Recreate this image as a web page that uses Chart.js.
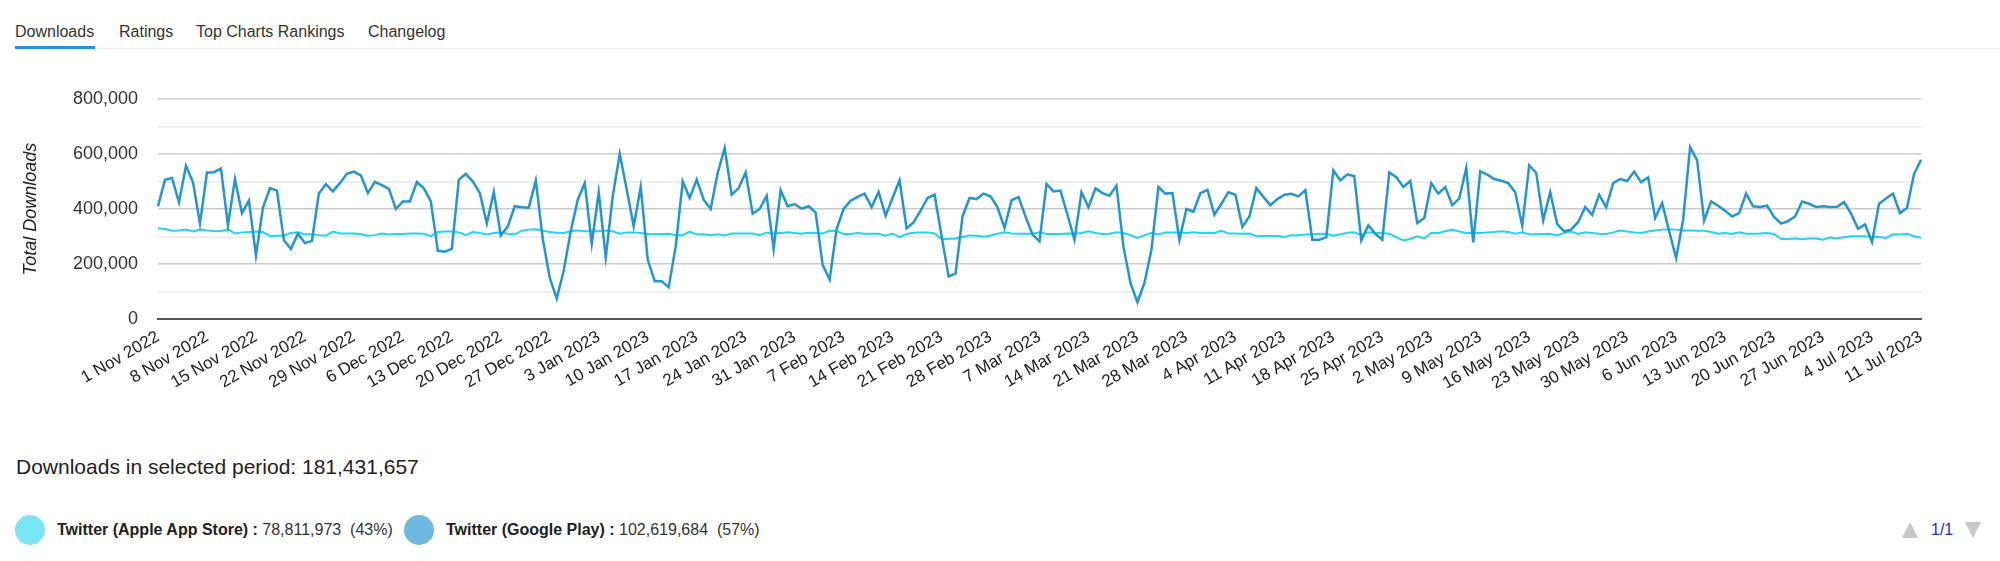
<!DOCTYPE html>
<html>
<head>
<meta charset="utf-8">
<script src="https://cdn.jsdelivr.net/npm/chart.js@4.4.1/dist/chart.umd.min.js"></script>
<style>
  html, body { margin: 0; padding: 0; background: #fff; }
  body { width: 2000px; height: 561px; overflow: hidden; position: relative;
         font-family: "Liberation Sans", Arial, Helvetica, sans-serif; color: #333; }
  .tab { position: absolute; top: 22px; font-size: 16px; line-height: 20px; color: #333; white-space: nowrap; }
  #tabline { position: absolute; left: 15px; right: 0; top: 48px; height: 1px; background: #eaeef2; }
  #tabactive { position: absolute; left: 15px; width: 80px; top: 46px; height: 3px; background: #1e96ee; }
  #chartWrap { position: absolute; left: 0; top: 60px; width: 1945px; height: 340px; }
  #period { position: absolute; left: 16px; top: 454px; font-size: 21px; line-height: 26px; color: #222; white-space: nowrap; }
  .dot { position: absolute; top: 515px; width: 30px; height: 30px; border-radius: 50%; }
  .leg { position: absolute; top: 520px; font-size: 16px; line-height: 20px; color: #333; white-space: pre; }
  .leg b { color: #222; }
  .tri { position: absolute; width: 0; height: 0; border-left: 8px solid transparent; border-right: 8px solid transparent; }
  #pg { position: absolute; left: 1931px; top: 520px; font-size: 16px; line-height: 20px; color: #1a2bd0; }
</style>
</head>
<body>
<div class="tab" style="left:15px">Downloads</div>
<div class="tab" style="left:119px">Ratings</div>
<div class="tab" style="left:196px">Top Charts Rankings</div>
<div class="tab" style="left:368px">Changelog</div>
<div id="tabline"></div>
<div id="tabactive"></div>

<div id="chartWrap"><canvas id="c" width="1945" height="340" style="width:1945px;height:340px"></canvas></div>

<div id="period">Downloads in selected period: 181,431,657</div>

<div class="dot" style="left:15px;background:#7ae6f3"></div>
<div class="leg" style="left:57px"><b>Twitter (Apple App Store) :</b> 78,811,973  (43%)</div>
<div class="dot" style="left:404px;background:#6fb8e0"></div>
<div class="leg" style="left:446px"><b>Twitter (Google Play) :</b> 102,619,684  (57%)</div>

<div class="tri" style="left:1902px;top:522px;border-bottom:16px solid #c8c8c8"></div>
<div id="pg">1/1</div>
<div class="tri" style="left:1965px;top:522px;border-top:16px solid #c8c8c8"></div>

<script>
// ---- data ----
const startDate = [2022, 10, 1]; // 1 Nov 2022 (month is 0-based)
const dayCount = 253;            // 1 Nov 2022 .. 11 Jul 2023
const monthNames = ['Jan','Feb','Mar','Apr','May','Jun','Jul','Aug','Sep','Oct','Nov','Dec'];

const googlePlay = [
  410000,506000,513000,424000,557000,497000,347000,533000,534000,547000,
  341000,509000,385000,431000,231000,404000,476000,467000,286000,255000,
  310000,276000,284000,456000,490000,464000,494000,528000,536000,522000,
  458000,499000,487000,473000,400000,427000,427000,498000,475000,428000,
  248000,245000,255000,506000,528000,500000,458000,347000,462000,304000,
  337000,410000,406000,405000,504000,291000,149000,74000,177000,319000,
  434000,494000,274000,461000,
  225000,446000,601000,470000,337000,480000,216000,137000,137000,116000,
  264000,500000,440000,507000,434000,400000,531000,622000,452000,476000,
  533000,383000,400000,448000,255000,468000,410000,418000,401000,410000,
  388000,198000,143000,327000,400000,430000,444000,456000,407000,462000,
  376000,440000,504000,330000,351000,394000,440000,452000,303000,155000,
  165000,373000,440000,436000,456000,446000,406000,331000,431000,444000,
  373000,307000,282000,491000,464000,467000,379000,288000,461000,406000,
  475000,
  458000,448000,485000,264000,131000,61000,131000,252000,480000,456000,
  458000,288000,400000,390000,458000,470000,379000,419000,461000,452000,
  335000,373000,476000,444000,414000,436000,452000,455000,446000,468000,
  288000,288000,298000,541000,504000,526000,519000,286000,341000,310000,
  288000,533000,516000,480000,502000,349000,367000,494000,456000,480000,
  414000,438000,549000,279000,537000,525000,509000,503000,494000,461000,
  339000,559000,531000,359000,461000,345000,319000,325000,353000,407000,
  379000,452000,
  406000,494000,509000,502000,536000,497000,515000,367000,422000,319000,
  222000,361000,625000,577000,358000,428000,412000,394000,373000,385000,
  456000,410000,407000,412000,371000,347000,356000,373000,427000,419000,
  407000,410000,407000,408000,425000,383000,328000,344000,280000,419000,
  438000,456000,385000,404000,527000,579000
];

const appleAppStore = [
  330000,327000,321000,322000,325000,318000,325000,322000,320000,319000,
  326000,311000,315000,316000,318000,316000,302000,303000,304000,313000,
  315000,307000,308000,305000,303000,318000,311000,311000,311000,308000,
  303000,305000,311000,307000,309000,309000,311000,311000,310000,301000,
  316000,318000,318000,315000,305000,316000,313000,307000,313000,315000,
  310000,308000,321000,325000,326000,321000,316000,314000,313000,319000,
  322000,319000,319000,319000,
  322000,319000,310000,315000,315000,313000,309000,308000,309000,310000,
  305000,305000,318000,307000,308000,305000,308000,304000,311000,311000,
  311000,311000,305000,314000,311000,313000,315000,313000,310000,314000,
  313000,311000,321000,320000,309000,309000,313000,310000,310000,310000,
  303000,311000,298000,309000,314000,315000,315000,311000,291000,291000,
  293000,298000,304000,303000,299000,304000,310000,315000,311000,310000,
  310000,310000,315000,309000,309000,309000,311000,310000,313000,319000,
  313000,
  309000,310000,315000,313000,305000,295000,305000,313000,307000,315000,
  315000,315000,313000,315000,313000,314000,313000,321000,311000,311000,
  310000,311000,301000,302000,302000,302000,298000,305000,305000,307000,
  308000,309000,310000,303000,307000,314000,315000,305000,315000,313000,
  313000,310000,298000,286000,291000,301000,293000,313000,313000,319000,
  325000,318000,313000,313000,313000,315000,316000,319000,316000,310000,
  315000,307000,308000,309000,310000,304000,313000,318000,309000,315000,
  313000,310000,
  309000,315000,322000,318000,315000,313000,318000,322000,325000,326000,
  325000,322000,322000,321000,321000,316000,310000,313000,309000,315000,
  310000,310000,311000,313000,309000,291000,291000,293000,290000,293000,
  293000,288000,296000,293000,297000,301000,301000,301000,298000,298000,
  295000,308000,307000,310000,301000,295000
];

const yTickValues = [0, 200000, 400000, 600000, 800000];
const tickEvery = 7; // a date label every 7 days

// category labels (dates)
const dateLabels = [];
for (let i = 0; i < dayCount; i++) {
  const d = new Date(Date.UTC(startDate[0], startDate[1], startDate[2] + i));
  dateLabels.push(d.getUTCDate() + ' ' + monthNames[d.getUTCMonth()] + ' ' + d.getUTCFullYear());
}

const FONT = '"Liberation Sans", Arial, Helvetica, sans-serif';

new Chart(document.getElementById('c'), {
  type: 'line',
  data: {
    labels: dateLabels,
    datasets: [
      { label: 'Twitter (Google Play)', data: googlePlay, borderColor: '#2196d0', borderWidth: 2.5,
        pointRadius: 0, pointHoverRadius: 0, fill: false, tension: 0 },
      { label: 'Twitter (Apple App Store)', data: appleAppStore, borderColor: '#22d4ee', borderWidth: 2,
        pointRadius: 0, pointHoverRadius: 0, fill: false, tension: 0 }
    ]
  },
  options: {
    responsive: false,
    animation: false,
    devicePixelRatio: 1,
    layout: { padding: { top: 39, right: 24, left: 0, bottom: 0 } },
    plugins: { legend: { display: false }, tooltip: { enabled: false } },
    scales: {
      x: {
        type: 'category',
        grid: { display: false, drawTicks: false },
        border: { display: true, color: '#555555', width: 2 },
        ticks: {
          autoSkip: false, minRotation: 30, maxRotation: 30, padding: 8,
          color: '#222', font: { family: FONT, size: 17 },
          callback: function (v, i) { return i % tickEvery === 0 ? this.getLabelForValue(v) : null; }
        },
        afterFit: (s) => { s.height = 81; }
      },
      y: {
        min: 0, max: 800000,
        border: { display: false },
        grid: {
          drawTicks: false,
          color: (ctx) => {
            const v = ctx.tick ? ctx.tick.value : 0;
            if (v === 0) return 'rgba(0,0,0,0)';
            return yTickValues.includes(v) ? '#cccccc' : '#eeeeee';
          },
          lineWidth: (ctx) => (ctx.tick && yTickValues.includes(ctx.tick.value)) ? 1.5 : 2
        },
        ticks: {
          stepSize: 100000, padding: 20, color: '#333', font: { family: FONT, size: 18 },
          callback: (v) => yTickValues.includes(v) ? v.toLocaleString('en-US') : ''
        },
        title: {
          display: true, text: 'Total Downloads', color: '#222',
          font: { family: FONT, size: 18, style: 'italic' },
          padding: { top: 20, bottom: 0 }
        },
        afterFit: (s) => { s.width = 158; }
      }
    }
  }
});
</script>
</body>
</html>
